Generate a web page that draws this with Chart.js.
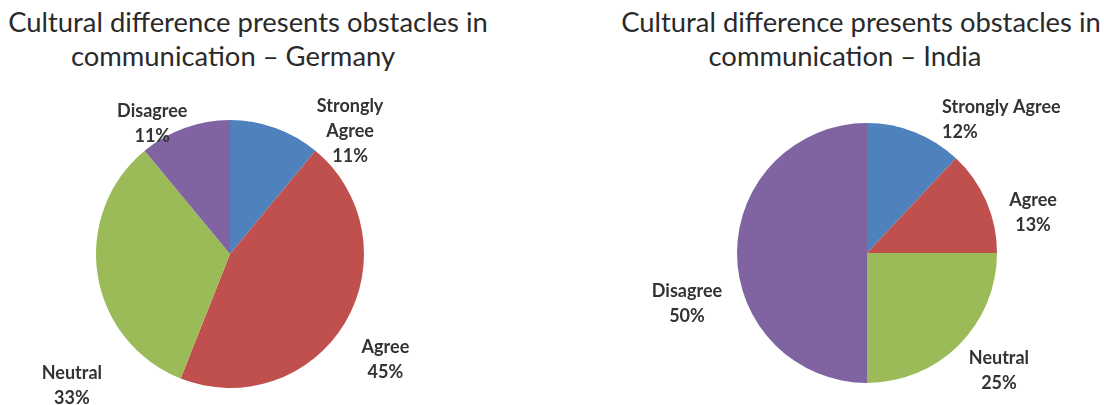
<!DOCTYPE html>
<html>
<head>
<meta charset="utf-8">
<script src="https://cdn.jsdelivr.net/npm/chart.js@4"></script>
<style>
  html, body { margin: 0; padding: 0; background: #ffffff; }
  body { width: 1104px; height: 405px; position: relative; overflow: hidden; font-family: Lato, "Open Sans", sans-serif; }
  .panel { position: absolute; top: 0; width: 552px; height: 405px; }
  .title { position: absolute; font-family: Lato, sans-serif; font-size: 27.4px; line-height: 34px; color: #2a2a2a; white-space: nowrap; transform: translateX(-50%); }
</style>
</head>
<body>
<div class="title" id="t1a" style="left:248px; top:5px;"></div>
<div class="title" id="t1b" style="left:233px; top:39px;"></div>
<div class="title" id="t2a" style="left:861px; top:5px;"></div>
<div class="title" id="t2b" style="left:845px; top:39px;"></div>
<div class="panel" style="left:0px;"><canvas id="c1"></canvas></div>
<div class="panel" style="left:552px;"><canvas id="c2"></canvas></div>
<script>
// ---- data ----
const categories = ['Strongly Agree', 'Agree', 'Neutral', 'Disagree'];
const germanyValues = [11, 45, 33, 11];
const indiaValues = [12, 13, 25, 50];
const germanyTitle = ['Cultural difference presents obstacles in', 'communication \u2013  Germany'];
const indiaTitle = ['Cultural difference presents obstacles in', 'communication \u2013  India'];
const sliceColors = ['#4F81BD', '#C0504D', '#9BBB59', '#8064A2'];

document.getElementById('t1a').textContent = germanyTitle[0];
document.getElementById('t1b').textContent = germanyTitle[1];
document.getElementById('t2a').textContent = indiaTitle[0];
document.getElementById('t2b').textContent = indiaTitle[1];

// label placement relative to pie centre, in units of the pie radius
const germanyLabelLayout = { pos: [[0.896, -0.918], [1.16, 0.79], [-1.18, 0.985], [-0.58, -0.97]], align: ['center', 'center', 'center', 'center'], wrap: 90 };
const indiaLabelLayout = { pos: [[0.577, -1.027], [1.277, -0.31], [1.015, 0.904], [-1.385, 0.388]], align: ['left', 'center', 'center', 'center'], wrap: 300 };

const outsideLabels = {
  id: 'outsideLabels',
  afterDatasetsDraw(chart, args, opts) {
    const ctx = chart.ctx;
    const meta = chart.getDatasetMeta(0);
    const values = chart.data.datasets[0].data;
    ctx.save();
    ctx.font = 'bold 18px Lato, sans-serif';
    ctx.fillStyle = '#333333';
    ctx.textBaseline = 'middle';
    const lh = 25;
    meta.data.forEach((arc, i) => {
      const p = arc.getProps(['x', 'y', 'outerRadius'], true);
      const words = chart.data.labels[i].split(' ');
      const lines = [];
      let cur = '';
      words.forEach(w => {
        const test = cur ? cur + ' ' + w : w;
        if (cur && ctx.measureText(test).width > opts.wrap) { lines.push(cur); cur = w; } else { cur = test; }
      });
      lines.push(cur);
      lines.push(values[i] + '%');
      const cx = p.x + opts.pos[i][0] * p.outerRadius;
      const cy = p.y + opts.pos[i][1] * p.outerRadius;
      ctx.textAlign = opts.align[i];
      const y0 = cy - (lines.length - 1) * lh / 2;
      lines.forEach((ln, k) => ctx.fillText(ln, cx, y0 + k * lh));
    });
    ctx.restore();
  }
};

function makePie(id, values, padding, layout) {
  return new Chart(document.getElementById(id), {
    type: 'pie',
    data: {
      labels: categories,
      datasets: [{ data: values, backgroundColor: sliceColors, borderWidth: 0 }]
    },
    options: {
      responsive: true,
      maintainAspectRatio: false,
      animation: false,
      layout: { padding: padding },
      plugins: {
        legend: { display: false },
        tooltip: { enabled: false },
        outsideLabels: layout
      }
    },
    plugins: [outsideLabels]
  });
}

makePie('c1', germanyValues, { left: 96, right: 188, top: 120, bottom: 17 }, germanyLabelLayout);
makePie('c2', indiaValues, { left: 185, right: 107, top: 123, bottom: 22 }, indiaLabelLayout);
</script>
</body>
</html>
